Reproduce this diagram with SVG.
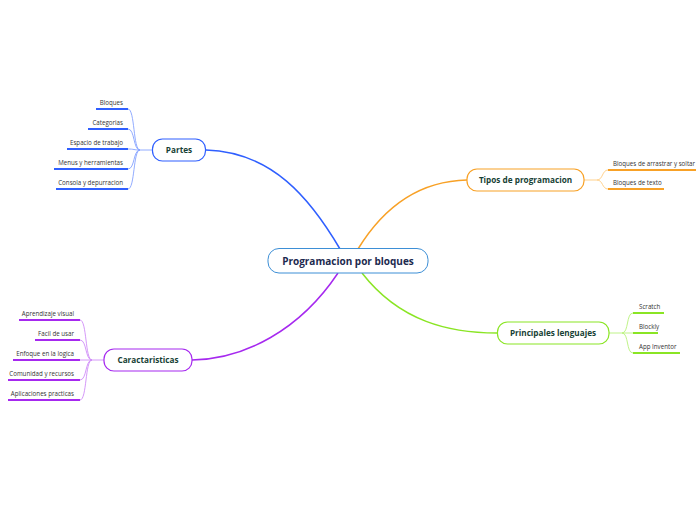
<svg xmlns="http://www.w3.org/2000/svg" width="696" height="520" viewBox="0 0 696 520">
<style>
text{font-family:"Open Sans","Liberation Sans",sans-serif}
.node text{font-weight:bold;font-size:8.2px;fill:#173f35;text-anchor:middle}
.leaf{font-size:6.2px;fill:#333}
.r{text-anchor:end}
.main{fill:none;stroke-width:1.5}
.sub{fill:none;stroke-width:0.9}
.ul{stroke-width:2}
.blue{stroke:#2f5fff}.bluel{stroke:#86a3ff}
.orange{stroke:#f8a126}.orangel{stroke:#ffcc80}
.green{stroke:#8ae524}.greenl{stroke:#b8f27a}
.purple{stroke:#a629ef}.purplel{stroke:#cf8cf7}
</style>
<rect width="696" height="520" fill="#fff"/>
<g id="connectors">
<path class="main blue" d="M206,150 C272,152 310,198 340,249"/>
<path class="main orange" d="M467,180 C420,181 385,205 358,249"/>
<path class="main purple" d="M338,273 C300,330 245,359 192,360"/>
<path class="main green" d="M362,273 C400,322 450,333 497,333"/>
<g class="sub bluel">
<path d="M152,150 L140,150"/>
<path d="M140,150 C133,150 135,109 128,109"/>
<path d="M140,150 C133,150 135,129 128,129"/>
<path d="M140,150 C134,150 134,149 128,149"/>
<path d="M140,150 C133,150 135,169 128,169"/>
<path d="M140,150 C133,150 135,189 128,189"/>
</g>
<g class="sub orangel">
<path d="M584,180 L597,180"/>
<path d="M597,180 C603,180 602,170 608,170"/>
<path d="M597,180 C603,180 602,189 608,189"/>
</g>
<g class="sub greenl">
<path d="M609,333 L622,333"/>
<path d="M622,333 C629,333 626,313 633,313"/>
<path d="M622,333 L633,333"/>
<path d="M622,333 C629,333 626,353 633,353"/>
</g>
<g class="sub purplel">
<path d="M104,360 L92,360"/>
<path d="M92,360 C85,360 87,320 80,320"/>
<path d="M92,360 C85,360 87,340 80,340"/>
<path d="M92,360 L80,360"/>
<path d="M92,360 C85,360 87,380 80,380"/>
<path d="M92,360 C85,360 87,400 80,400"/>
</g>
</g>
<g id="central" class="node">
<rect x="268" y="248.5" width="160" height="24.5" rx="11" fill="#fff" stroke="#3d8fd6" stroke-width="1"/>
<text x="348" y="264.5" style="font-size:10px;fill:#1c2a4f">Programacion por bloques</text>
</g>
<g id="partes" class="node">
<rect x="152.5" y="139" width="53" height="22" rx="10" fill="#fff" stroke="#2f5fff" stroke-width="1.2"/>
<text x="179" y="153">Partes</text>
</g>
<g id="tipos" class="node">
<rect x="467" y="169" width="117" height="22" rx="10" fill="#fff" stroke="#f8a126" stroke-width="1.2"/>
<text x="525.5" y="183">Tipos de programacion</text>
</g>
<g id="principales" class="node">
<rect x="497.5" y="322" width="111.5" height="22" rx="10" fill="#fff" stroke="#8ae524" stroke-width="1.2"/>
<text x="553" y="336">Principales lenguajes</text>
</g>
<g id="caracteristicas" class="node">
<rect x="104" y="349" width="88" height="22" rx="10" fill="#fff" stroke="#a629ef" stroke-width="1.2"/>
<text x="148" y="363">Caractaristicas</text>
</g>
<g id="partes-leaves">
<g id="bloques"><line class="ul blue" x1="96" y1="109" x2="128" y2="109"/><text class="leaf r" x="123" y="105">Bloques</text></g>
<g id="categorias"><line class="ul blue" x1="88" y1="129" x2="128" y2="129"/><text class="leaf r" x="123" y="125">Categorias</text></g>
<g id="espacio"><line class="ul blue" x1="67" y1="149" x2="128" y2="149"/><text class="leaf r" x="123" y="145">Espacio de trabajo</text></g>
<g id="menus"><line class="ul blue" x1="54" y1="169" x2="128" y2="169"/><text class="leaf r" x="123" y="165">Menus y herramientas</text></g>
<g id="consola"><line class="ul blue" x1="56" y1="189" x2="128" y2="189"/><text class="leaf r" x="123" y="185">Consola y depurracion</text></g>
</g>
<g id="tipos-leaves">
<g id="arrastrar"><line class="ul orange" x1="608" y1="170" x2="696" y2="170"/><text class="leaf" x="613" y="166">Bloques de arrastrar y soltar</text></g>
<g id="texto"><line class="ul orange" x1="608" y1="189" x2="664" y2="189"/><text class="leaf" x="613" y="185">Bloques de texto</text></g>
</g>
<g id="lenguajes-leaves">
<g id="scratch"><line class="ul green" x1="633" y1="313" x2="664" y2="313"/><text class="leaf" x="639" y="309">Scratch</text></g>
<g id="blockly"><line class="ul green" x1="633" y1="333" x2="658" y2="333"/><text class="leaf" x="639" y="329">Blockly</text></g>
<g id="appinventor"><line class="ul green" x1="633" y1="353" x2="680" y2="353"/><text class="leaf" x="639" y="349">App Inventor</text></g>
</g>
<g id="caracteristicas-leaves">
<g id="aprendizaje"><line class="ul purple" x1="19" y1="320" x2="80" y2="320"/><text class="leaf r" x="74" y="316">Aprendizaje visual</text></g>
<g id="facil"><line class="ul purple" x1="35" y1="340" x2="80" y2="340"/><text class="leaf r" x="74" y="336">Facil de usar</text></g>
<g id="enfoque"><line class="ul purple" x1="13" y1="360" x2="80" y2="360"/><text class="leaf r" x="74" y="356">Enfoque en la logica</text></g>
<g id="comunidad"><line class="ul purple" x1="8" y1="380" x2="80" y2="380"/><text class="leaf r" x="74" y="376">Comunidad y recursos</text></g>
<g id="aplicaciones"><line class="ul purple" x1="8" y1="400" x2="80" y2="400"/><text class="leaf r" x="74" y="396">Aplicaciones practicas</text></g>
</g>
</svg>
